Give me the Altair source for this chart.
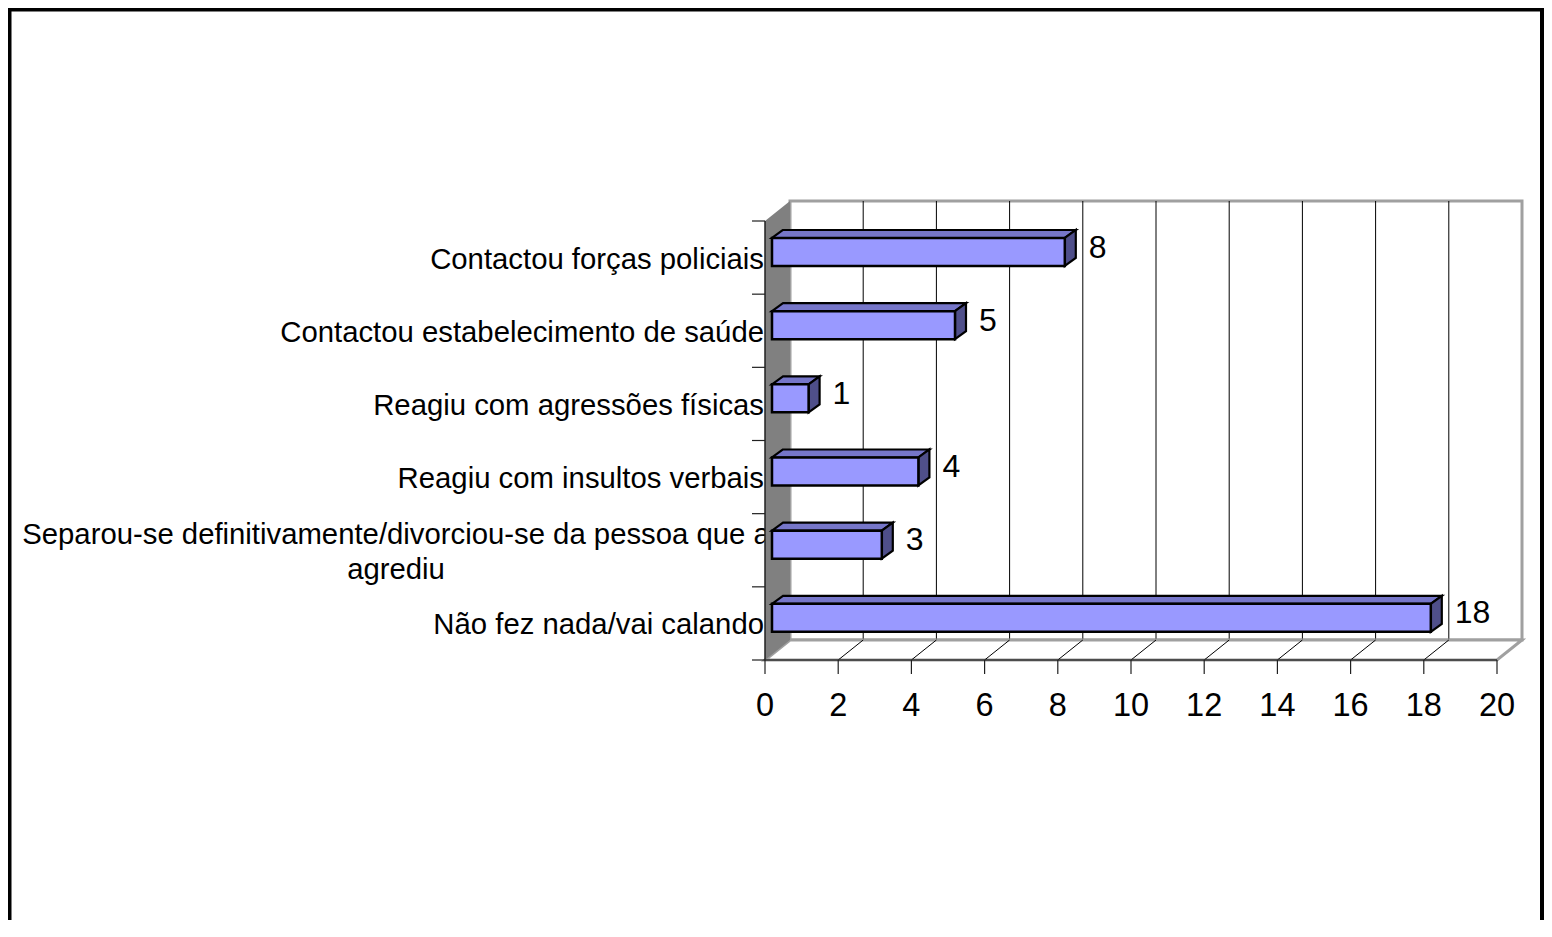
import altair as alt
import pandas as pd

# ---- data (bottom to top, as drawn) ----
CATEGORIES = [
    "Não fez nada/vai calando",
    "Separou-se definitivamente/divorciou-se da pessoa que a\nagrediu",
    "Reagiu com insultos verbais",
    "Reagiu com agressões físicas",
    "Contactou estabelecimento de saúde",
    "Contactou forças policiais",
]
VALUES = [18, 3, 4, 1, 5, 8]
X_TICKS = [0, 2, 4, 6, 8, 10, 12, 14, 16, 18, 20]
X_MAX = 20

# ---- layout (pixels) ----
W, H = 1536, 912
X_RANGE = [757, 1489]
Y_RANGE = [652, 213]
N = len(CATEGORIES)
PX_X = (X_RANGE[1] - X_RANGE[0]) / X_MAX
PX_Y = (Y_RANGE[0] - Y_RANGE[1]) / N


def ux(p):
    return p / PX_X


def uy(p):
    return p / PX_Y


WALL_DX, WALL_DY = ux(25), uy(20)
BAR_X0, BAR_LIFT = ux(7), uy(5.6)
BAR_HALF = uy(14)
BAR_DX, BAR_DY = ux(11), uy(8)

FONT = "Liberation Sans"
FRONT, TOP, SIDE = "#9999FF", "#7676C9", "#4F4F8A"
WALL_GRAY, EDGE_GRAY = "#808080", "#A0A0A0"

xs = alt.Scale(domain=[0, X_MAX], range=X_RANGE, nice=False, zero=False)
ys = alt.Scale(domain=[0, N], range=Y_RANGE, nice=False, zero=False)


def X(f):
    return alt.X(f, type="quantitative", scale=xs, axis=None)


def Y(f):
    return alt.Y(f, type="quantitative", scale=ys, axis=None)


# ---- tables built from the arrays ----
bars = pd.DataFrame({"label": CATEGORIES, "value": VALUES, "slot": list(range(N))})
bars["yc"] = bars["slot"] + 0.5
bars["x0"] = BAR_X0
bars["x1"] = bars["value"] + BAR_X0
bars["fy"] = bars["yc"] + BAR_LIFT
bars["yb"] = bars["fy"] - BAR_HALF
bars["yt"] = bars["fy"] + BAR_HALF
bars["wrapped"] = bars["label"].str.contains("\n")

top_rows, side_rows = [], []
for _, r in bars.iterrows():
    top_rows.append({"label": r["label"], "y": r["yt"], "xa": r["x0"], "xb": r["x1"]})
    top_rows.append({"label": r["label"], "y": r["yt"] + BAR_DY,
                     "xa": r["x0"] + BAR_DX, "xb": r["x1"] + BAR_DX})
    side_rows.append({"label": r["label"], "x": r["x1"], "ya": r["yb"], "yb": r["yt"]})
    side_rows.append({"label": r["label"], "x": r["x1"] + BAR_DX,
                      "ya": r["yb"] + BAR_DY, "yb": r["yt"] + BAR_DY})
top_df = pd.DataFrame(top_rows)
side_df = pd.DataFrame(side_rows)

ticks = pd.DataFrame({"v": X_TICKS})
ticks["zero"] = 0.0
ticks["text"] = ticks["v"].astype(str)
inner = ticks[(ticks.v > 0) & (ticks.v < X_MAX)].copy()
inner["vb"] = inner["v"] + WALL_DX
inner["yb0"] = WALL_DY
inner["yb1"] = N + WALL_DY

slots = pd.DataFrame({"s": list(range(N + 1))})
slots["zero"] = 0.0

wall = pd.DataFrame({"x": [0.0, WALL_DX], "ya": [0.0, WALL_DY], "yb": [float(N), N + WALL_DY]})
floor = pd.DataFrame({"y": [0.0, WALL_DY], "xa": [0.0, WALL_DX], "xb": [float(X_MAX), X_MAX + WALL_DX]})
back = pd.DataFrame({"xa": [WALL_DX], "xb": [X_MAX + WALL_DX], "ya": [WALL_DY], "yb": [N + WALL_DY]})
axis_df = pd.DataFrame({"xa": [0.0], "xb": [float(X_MAX)], "ya": [0.0], "yb": [float(N)]})
one = pd.DataFrame({"k": [0]})

# ---- layers ----
frame = alt.Chart(one).mark_rect(filled=False, stroke="black", strokeWidth=4).encode(
    x=alt.value(1.5), x2=alt.value(W - 2), y=alt.value(1.5), y2=alt.value(H + 40)
)

cat_single = alt.Chart(bars).transform_filter("!datum.wrapped").mark_text(
    align="right", baseline="middle", dx=-8, dy=2, fontSize=29.3, font=FONT, color="black"
).encode(x=X("x0"), y=Y("yc"), text="label:N")

cat_wrapped = alt.Chart(bars).transform_filter("datum.wrapped").mark_text(
    align="center", baseline="middle", dx=-376, dy=-15, fontSize=29.3, font=FONT, color="black",
    lineBreak="\n", lineHeight=35
).encode(x=X("x0"), y=Y("yc"), text="label:N")

back_wall = alt.Chart(back).mark_rect(fill="white", stroke=EDGE_GRAY, strokeWidth=3).encode(
    x=X("xa"), x2="xb", y=Y("ya"), y2="yb"
)

grid_back = alt.Chart(inner).mark_rule(color="black", strokeWidth=1).encode(
    x=X("vb"), y=Y("yb0"), y2="yb1"
)

floor_area = alt.Chart(floor).mark_area(
    orient="horizontal", fill="white", stroke=EDGE_GRAY, strokeWidth=3
).encode(y=Y("y"), x=X("xa"), x2="xb")

floor_diag = alt.Chart(inner).mark_rule(color="black", strokeWidth=1).encode(
    x=X("v"), x2="vb", y=Y("zero"), y2="yb0"
)

left_wall = alt.Chart(wall).mark_area(orient="vertical", fill=WALL_GRAY).encode(
    x=X("x"), y=Y("ya"), y2="yb"
)

y_axis_line = alt.Chart(axis_df).mark_rule(color="#202020", strokeWidth=1.5).encode(
    x=X("xa"), y=Y("ya"), y2="yb"
)
x_axis_line = alt.Chart(axis_df).mark_rule(color="#303030", strokeWidth=1.5).encode(
    x=X("xa"), x2="xb", y=Y("ya")
)
y_ticks = alt.Chart(slots).mark_rule(color="#202020", strokeWidth=1.2, xOffset=-13).encode(
    x=X("zero"), x2="zero", y=Y("s")
)
x_ticks = alt.Chart(ticks).mark_rule(color="#202020", strokeWidth=1.2, y2Offset=14).encode(
    x=X("v"), y=Y("zero"), y2="zero"
)
x_labels = alt.Chart(ticks).mark_text(
    align="center", baseline="middle", dy=46, fontSize=32.5, font=FONT, color="black"
).encode(x=X("v"), y=Y("zero"), text="text:N")

bar_top = alt.Chart(top_df).mark_area(
    orient="horizontal", fill=TOP, stroke="black", strokeWidth=2.2
).encode(y=Y("y"), x=X("xa"), x2="xb", detail="label:N")

bar_side = alt.Chart(side_df).mark_area(
    orient="vertical", fill=SIDE, stroke="black", strokeWidth=2.2
).encode(x=X("x"), y=Y("ya"), y2="yb", detail="label:N")

bar_front = alt.Chart(bars).mark_rect(fill=FRONT, stroke="black", strokeWidth=2.5).encode(
    x=X("x0"), x2="x1", y=Y("yb"), y2="yt"
)

value_labels = alt.Chart(bars).mark_text(
    align="left", baseline="middle", dx=31, dy=-10, fontSize=32, font=FONT, color="black"
).encode(x=X("value"), y=Y("yc"), text="value:Q")

chart = alt.layer(
    frame, cat_single, cat_wrapped, back_wall, grid_back, floor_area, floor_diag,
    left_wall, y_axis_line, y_ticks, x_axis_line, x_ticks, x_labels,
    bar_top, bar_side, bar_front, value_labels,
).properties(
    width=W, height=H, autosize=alt.AutoSizeParams(type="none"), padding=0
).configure_view(stroke=None)

chart.save("out.html", embed_options={"renderer": "svg", "actions": False})
